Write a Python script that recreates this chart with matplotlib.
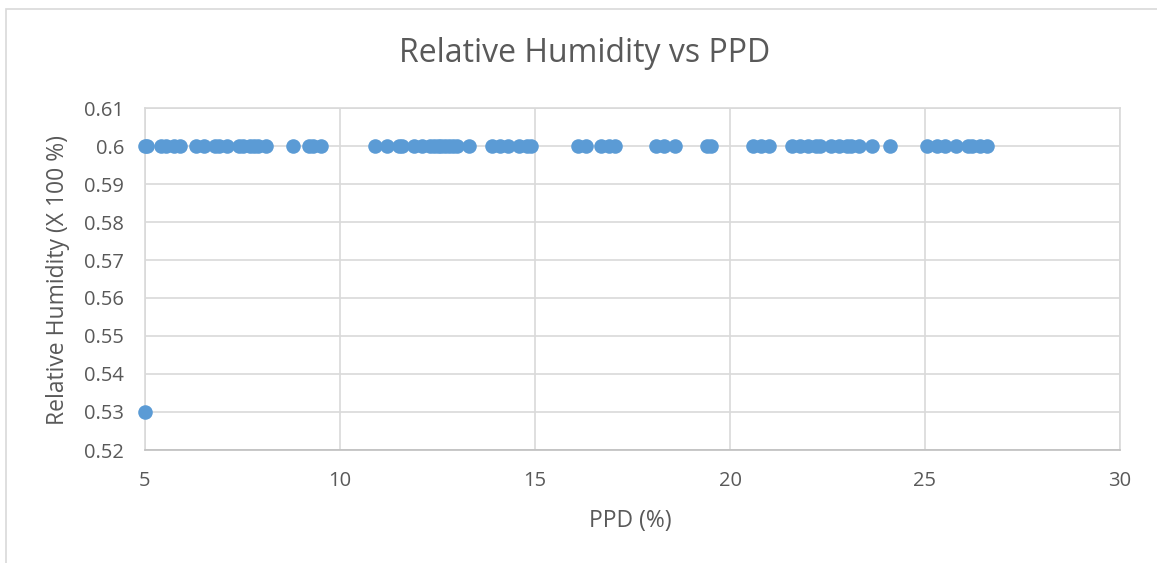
import numpy as np
import matplotlib.pyplot as plt
from matplotlib.patches import Rectangle

# PPD (%) values, all at RH = 0.6 except the single low point
ppd = [5.0, 5.05, 5.4, 5.55, 5.75, 5.9,
       6.3, 6.5, 6.8, 6.9, 7.1, 7.4, 7.5, 7.7, 7.8, 7.9, 8.1,
       8.8, 9.2, 9.3, 9.5,
       10.9, 11.2, 11.5, 11.6, 11.9, 12.1, 12.3, 12.4, 12.5, 12.6, 12.7, 12.8, 12.9, 13.0, 13.3,
       13.9, 14.1, 14.3, 14.6, 14.8, 14.9,
       16.1, 16.3, 16.7, 16.9, 17.05,
       18.1, 18.3, 18.6, 19.4, 19.5,
       20.6, 20.8, 21.0,
       21.6, 21.8, 22.0, 22.2, 22.3, 22.6, 22.8, 23.0, 23.1, 23.3, 23.65, 24.1,
       25.05, 25.3, 25.5, 25.8, 26.1, 26.2, 26.4, 26.6]
rh = [0.6] * len(ppd)
low_ppd = [5.0]
low_rh = [0.53]

xticks = [5, 10, 15, 20, 25, 30]
yticks = [0.52, 0.53, 0.54, 0.55, 0.56, 0.57, 0.58, 0.59, 0.6, 0.61]
ytick_labels = ['0.52', '0.53', '0.54', '0.55', '0.56', '0.57', '0.58', '0.59', '0.6', '0.61']

plt.rcParams['font.family'] = ['Open Sans', 'DejaVu Sans']
txt = '#595959'
grid = '#d9d9d9'
blue = '#5b9bd5'
W, H = 1157, 563

fig = plt.figure(figsize=(W / 100, H / 100), dpi=100)
fig.patches.append(Rectangle((6 / W, -0.01), 1.02, 1 - 9 / H + 0.01,
                             transform=fig.transFigure, fill=False,
                             edgecolor=grid, linewidth=1.2))

ax = fig.add_axes([145 / W, 1 - 450 / H, (1120 - 145) / W, (450 - 108) / H])
ax.scatter(ppd + low_ppd, rh + low_rh, s=110, color=blue, zorder=3,
           linewidths=0, clip_on=False)

ax.set_xlim(5, 30)
ax.set_ylim(0.52, 0.61)
ax.set_xticks(xticks)
ax.set_yticks(yticks)
ax.set_yticklabels(ytick_labels)
ax.grid(True, color=grid, linewidth=1.2)
ax.set_axisbelow(True)
for s in ax.spines.values():
    s.set_color(grid)
    s.set_linewidth(1.2)
ax.spines['bottom'].set_color('#bfbfbf')
ax.tick_params(length=0, labelsize=14.5, colors=txt)
ax.tick_params(axis='x', pad=15)
ax.tick_params(axis='y', pad=15)

fig.text(585 / W, 1 - 53 / H, 'Relative Humidity vs PPD', fontsize=23,
         color=txt, ha='center', va='center')
fig.text(630 / W, 1 - 521 / H, 'PPD (%)', fontsize=16.5, color=txt,
         ha='center', va='center')
fig.text(58 / W, 1 - 280 / H, 'Relative Humidity (X 100 %)', fontsize=16.5,
         color=txt, ha='center', va='center', rotation=90)

fig.savefig('out.png', dpi=100)
